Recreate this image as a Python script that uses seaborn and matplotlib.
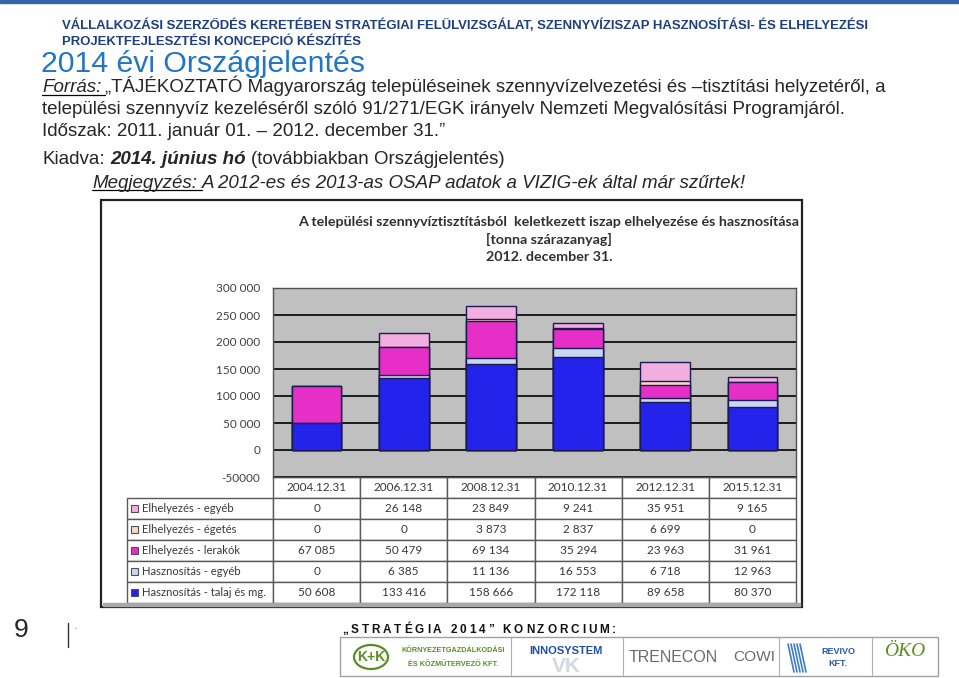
import numpy as np
import pandas as pd
import matplotlib.pyplot as plt
from matplotlib.patches import Rectangle, Circle
from matplotlib.lines import Line2D
import seaborn as sns

# --- data -------------------------------------------------------------
dates = ['2004.12.31', '2006.12.31', '2008.12.31', '2010.12.31', '2012.12.31', '2015.12.31']
hasz_talaj = [50608, 133416, 158666, 172118, 89658, 80370]
hasz_egyeb = [0, 6385, 11136, 16553, 6718, 12963]
elh_lerakok = [67085, 50479, 69134, 35294, 23963, 31961]
elh_egetes = [0, 0, 3873, 2837, 6699, 0]
elh_egyeb = [0, 26148, 23849, 9241, 35951, 9165]

# stacking order bottom -> top
series_names = ['Hasznosítás - talaj és mg.', 'Hasznosítás - egyéb', 'Elhelyezés - lerakók',
                'Elhelyezés - égetés', 'Elhelyezés - egyéb']
series_values = [hasz_talaj, hasz_egyeb, elh_lerakok, elh_egetes, elh_egyeb]
series_colors = ['#2323EC', '#C9D6F2', '#E52FC6', '#F3DCC2', '#F2AEDF']

y_ticks = [-50000, 0, 50000, 100000, 150000, 200000, 250000, 300000]
y_tick_labels = ['-50000', '0', '50 000', '100 000', '150 000', '200 000', '250 000', '300 000']

chart_title = ['A települési szennyvíztisztításból  keletkezett iszap elhelyezése és hasznosítása',
               '[tonna szárazanyag]', '2012. december 31.']

header = ['VÁLLALKOZÁSI SZERZŐDÉS KERETÉBEN STRATÉGIAI FELÜLVIZSGÁLAT, SZENNYVÍZISZAP HASZNOSÍTÁSI- ÉS ELHELYEZÉSI',
          'PROJEKTFEJLESZTÉSI KONCEPCIÓ KÉSZÍTÉS']
slide_title = '2014 évi Országjelentés'

# --- figure -----------------------------------------------------------
sns.set_style('white')
plt.rcParams['font.family'] = ['Lato', 'DejaVu Sans']
W, H = 959, 678
fig = plt.figure(figsize=(W / 100, H / 100), dpi=100)
renderer = fig.canvas.get_renderer()

SANS = ['Liberation Sans', 'DejaVu Sans']


def fx(x):
    return x / W


def fy(y):
    return 1 - y / H


def text_w(t):
    return t.get_window_extent(renderer=renderer).width


def fit_size(s, width_px, **kw):
    t = fig.text(0, 0, s, fontsize=10, **kw)
    w = text_w(t)
    t.remove()
    return 10 * width_px / w


def put_line(x, y, pieces, size):
    # pieces: (text, style kwargs, underline, gap after)
    gap_t = fig.text(0, 0, 'x x', fontsize=size, family=SANS)
    gap_t2 = fig.text(0, 0, 'xx', fontsize=size, family=SANS)
    space = text_w(gap_t) - text_w(gap_t2)
    gap_t.remove()
    gap_t2.remove()
    for s, kw, ul, gap in pieces:
        t = fig.text(fx(x), fy(y), s, fontsize=size, va='baseline', family=SANS, **kw)
        w = text_w(t)
        if ul:
            fig.add_artist(Line2D([fx(x), fx(x + w + space * gap)], [fy(y + 2.5)] * 2,
                                  color='black', lw=0.9))
        x += w + space * gap


# top rule
fig.add_artist(Rectangle((0, fy(3)), 1, 3 / H, color='#3565A8', transform=fig.transFigure))

# header
hs = fit_size(header[0], 806, family=SANS, weight='bold')
fig.text(fx(62), fy(29), header[0], fontsize=hs, family=SANS, weight='bold', color='#1F3F7F')
fig.text(fx(62), fy(45), header[1], fontsize=hs, family=SANS, weight='bold', color='#1F3F7F')
ts = fit_size(slide_title, 325, family=SANS)
fig.text(fx(41), fy(71.5), slide_title, fontsize=ts, family=SANS, color='#2376C4')

# body text
line1 = 'Forrás: „TÁJÉKOZTATÓ Magyarország településeinek szennyvízelvezetési és –tisztítási helyzetéről, a'
bs = fit_size(line1, 848, family=SANS)
put_line(42, 92.5, [('Forrás:', dict(style='italic'), True, 0.6),
                    ('„TÁJÉKOZTATÓ Magyarország településeinek szennyvízelvezetési és –tisztítási helyzetéről, a',
                     {}, False, 0)], bs)
put_line(42, 114.5, [('települési szennyvíz kezeléséről szóló 91/271/EGK irányelv Nemzeti Megvalósítási Programjáról.',
                      {}, False, 0)], bs)
put_line(42, 136.5, [('Időszak: 2011. január 01. – 2012. december 31.”', {}, False, 0)], bs)
put_line(42, 163.5, [('Kiadva:', {}, False, 1),
                     ('2014. június hó', dict(style='italic', weight='bold'), False, 1),
                     ('(továbbiakban Országjelentés)', {}, False, 0)], bs)
put_line(92, 187.5, [('Megjegyzés:', dict(style='italic'), True, 1),
                     ('A 2012-es és 2013-as OSAP adatok a VIZIG-ek által már szűrtek!',
                      dict(style='italic'), False, 0)], bs)

# chart frame
fig.add_artist(Rectangle((fx(101), fy(607)), (802 - 101) / W, (607 - 200) / H, fill=False,
                         ec='#222222', lw=1.6, transform=fig.transFigure))
fig.add_artist(Rectangle((fx(103), fy(606)), (800 - 103) / W, 3 / H, color='#A8A8A8',
                         transform=fig.transFigure))

cs = fit_size(chart_title[0], 503, weight='bold')
for i, s in enumerate(chart_title):
    fig.text(fx(549), fy(226 + 17.5 * i), s, fontsize=cs, weight='bold', ha='center',
             color='#303030')

# --- stacked bars -------------------------------------------------------
ax = fig.add_axes([fx(273), fy(477), 523 / W, 189 / H])
df = pd.DataFrame({'dátum': dates})
for name, vals in zip(series_names, series_values):
    df[name] = vals
stack = df[series_names].cumsum(axis=1)

for name, color in reversed(list(zip(series_names, series_colors))):
    sns.barplot(x=df['dátum'], y=stack[name], color=color, saturation=1, width=0.57,
                edgecolor='#1B1B50', linewidth=1.0, errorbar=None, ax=ax)

ax.set_facecolor('#C0C0C0')
ax.set_axisbelow(True)
ax.yaxis.grid(True, color='black', lw=1.2)
ax.set_ylim(-50000, 300000)
ax.set_xlim(-0.5, 5.5)
ax.set_yticks(y_ticks)
ax.set_yticklabels(y_tick_labels, fontsize=8.5, color='#404040')
ax.tick_params(axis='y', length=0, pad=9)
ax.set_xticks([])
ax.set_xlabel('')
ax.set_ylabel('')
for sp in ax.spines.values():
    sp.set_color('#505050')
    sp.set_linewidth(1.0)

# data table under the plot (first column = legend labels)
rows_top_down = list(reversed(series_names))
vals_top_down = list(reversed(series_values))
colors_top_down = list(reversed(series_colors))
cell_text = [[lab] + [f'{v:,}'.replace(',', ' ') for v in vals]
             for lab, vals in zip(rows_top_down, vals_top_down)]
lab_w = 146 / 523
tbl = ax.table(cellText=cell_text, colLabels=[''] + dates, cellLoc='center',
               colWidths=[lab_w] + [1 / 6] * 6,
               bbox=[-lab_w, -126 / 189, 1 + lab_w, 126 / 189])
tbl.auto_set_font_size(False)
tbl.set_fontsize(8.5)
for (r, c), cell in tbl.get_celld().items():
    cell.set_edgecolor('#5A5A5A')
    cell.set_linewidth(1.0)
    cell.set_facecolor('white')
    cell.get_text().set_color('#383838')
    if c == 0:
        cell._loc = 'left'
        cell.PAD = 0.105
        cell.get_text().set_ha('left')
        cell.get_text().set_fontsize(8.1)
        if r == 0:
            cell.set_edgecolor('none')
            cell.set_facecolor('none')

for i, color in enumerate(colors_top_down):
    yc = (477 - (508.5 + 21 * i)) / 189
    ax.add_patch(Rectangle(((131 - 273) / 523, yc - 3.5 / 189), 7 / 523, 7 / 189, fc=color,
                           ec='#505050', lw=0.8, transform=ax.transAxes, clip_on=False, zorder=5))

# --- footer -------------------------------------------------------------
fig.text(fx(14), fy(637), '9', fontsize=19, family=SANS)
fig.add_artist(Line2D([fx(68), fx(68)], [fy(623), fy(647)], color='#333333', lw=1))
fig.text(fx(74), fy(629), '.', fontsize=6, family=SANS)

konz = '„STRATÉGIA 2014” KONZORCIUM:'
glyphs = [fig.text(0, 0, ch, fontsize=8.5, weight='bold', family=SANS, color='#111111')
          for ch in konz]
widths = [text_w(g) if ch != ' ' else 3.0 for g, ch in zip(glyphs, konz)]
track = (274 - sum(widths)) / (len(konz) - 1)
x = 342
for g, w in zip(glyphs, widths):
    g.set_position((fx(x), fy(633)))
    x += w + track

fig.add_artist(Rectangle((fx(340), fy(676)), 598 / W, 39 / H, fill=False, ec='#A0A0A0', lw=1,
                         transform=fig.transFigure))
for xs in [511, 623, 779, 872]:
    fig.add_artist(Line2D([fx(xs), fx(xs)], [fy(638), fy(675)], color='#B0B0B0', lw=0.8))

green = '#5B8E22'
fig.add_artist(Circle((fx(371), fy(657)), 17 / W, transform=fig.transFigure, fill=False,
                      ec=green, lw=1.6))
fig.text(fx(371), fy(657), 'K+K', fontsize=10, weight='bold', color=green, ha='center',
         va='center', family=SANS)
fig.text(fx(453), fy(650), 'KÖRNYEZETGAZDÁLKODÁSI', fontsize=5.2, weight='bold', color=green,
         ha='center', va='center', family=SANS)
fig.text(fx(453), fy(665), 'ÉS KÖZMŰTERVEZŐ KFT.', fontsize=5.2, weight='bold', color=green,
         ha='center', va='center', family=SANS)
fig.text(fx(566), fy(667), 'VK', fontsize=15, weight='bold', color='#D4D8E0', ha='center',
         va='center', family=SANS)
fig.text(fx(566), fy(651), 'INNOSYSTEM', fontsize=8, weight='bold', color='#1E4FA8', ha='center',
         va='center', family=SANS)
tr = fit_size('TRENECON', 90, family=SANS)
fig.text(fx(629), fy(657), 'TRENECON', fontsize=tr, color='#6B6B6B', va='center', family=SANS)
cw = fit_size('COWI', 42, family=SANS)
fig.text(fx(733), fy(657), 'COWI', fontsize=cw, color='#6B6B6B', va='center', family=SANS)
for k in range(5):
    fig.add_artist(Line2D([fx(788 + 3 * k), fx(794 + 3 * k)], [fy(644), fy(672)],
                          color='#3E7CC8', lw=1.2))
fig.text(fx(838), fy(651), 'REVIVO', fontsize=6.5, weight='bold', color='#2B58B0', ha='center',
         va='center', family=SANS)
fig.text(fx(838), fy(664), 'KFT.', fontsize=6.5, weight='bold', color='#2B58B0', ha='center',
         va='center', family=SANS)
fig.text(fx(905), fy(651), 'ÖKO', fontsize=14, style='italic', color=green, ha='center',
         va='center', family=['Liberation Serif', 'DejaVu Serif'])

fig.savefig('out.png', dpi=100)
